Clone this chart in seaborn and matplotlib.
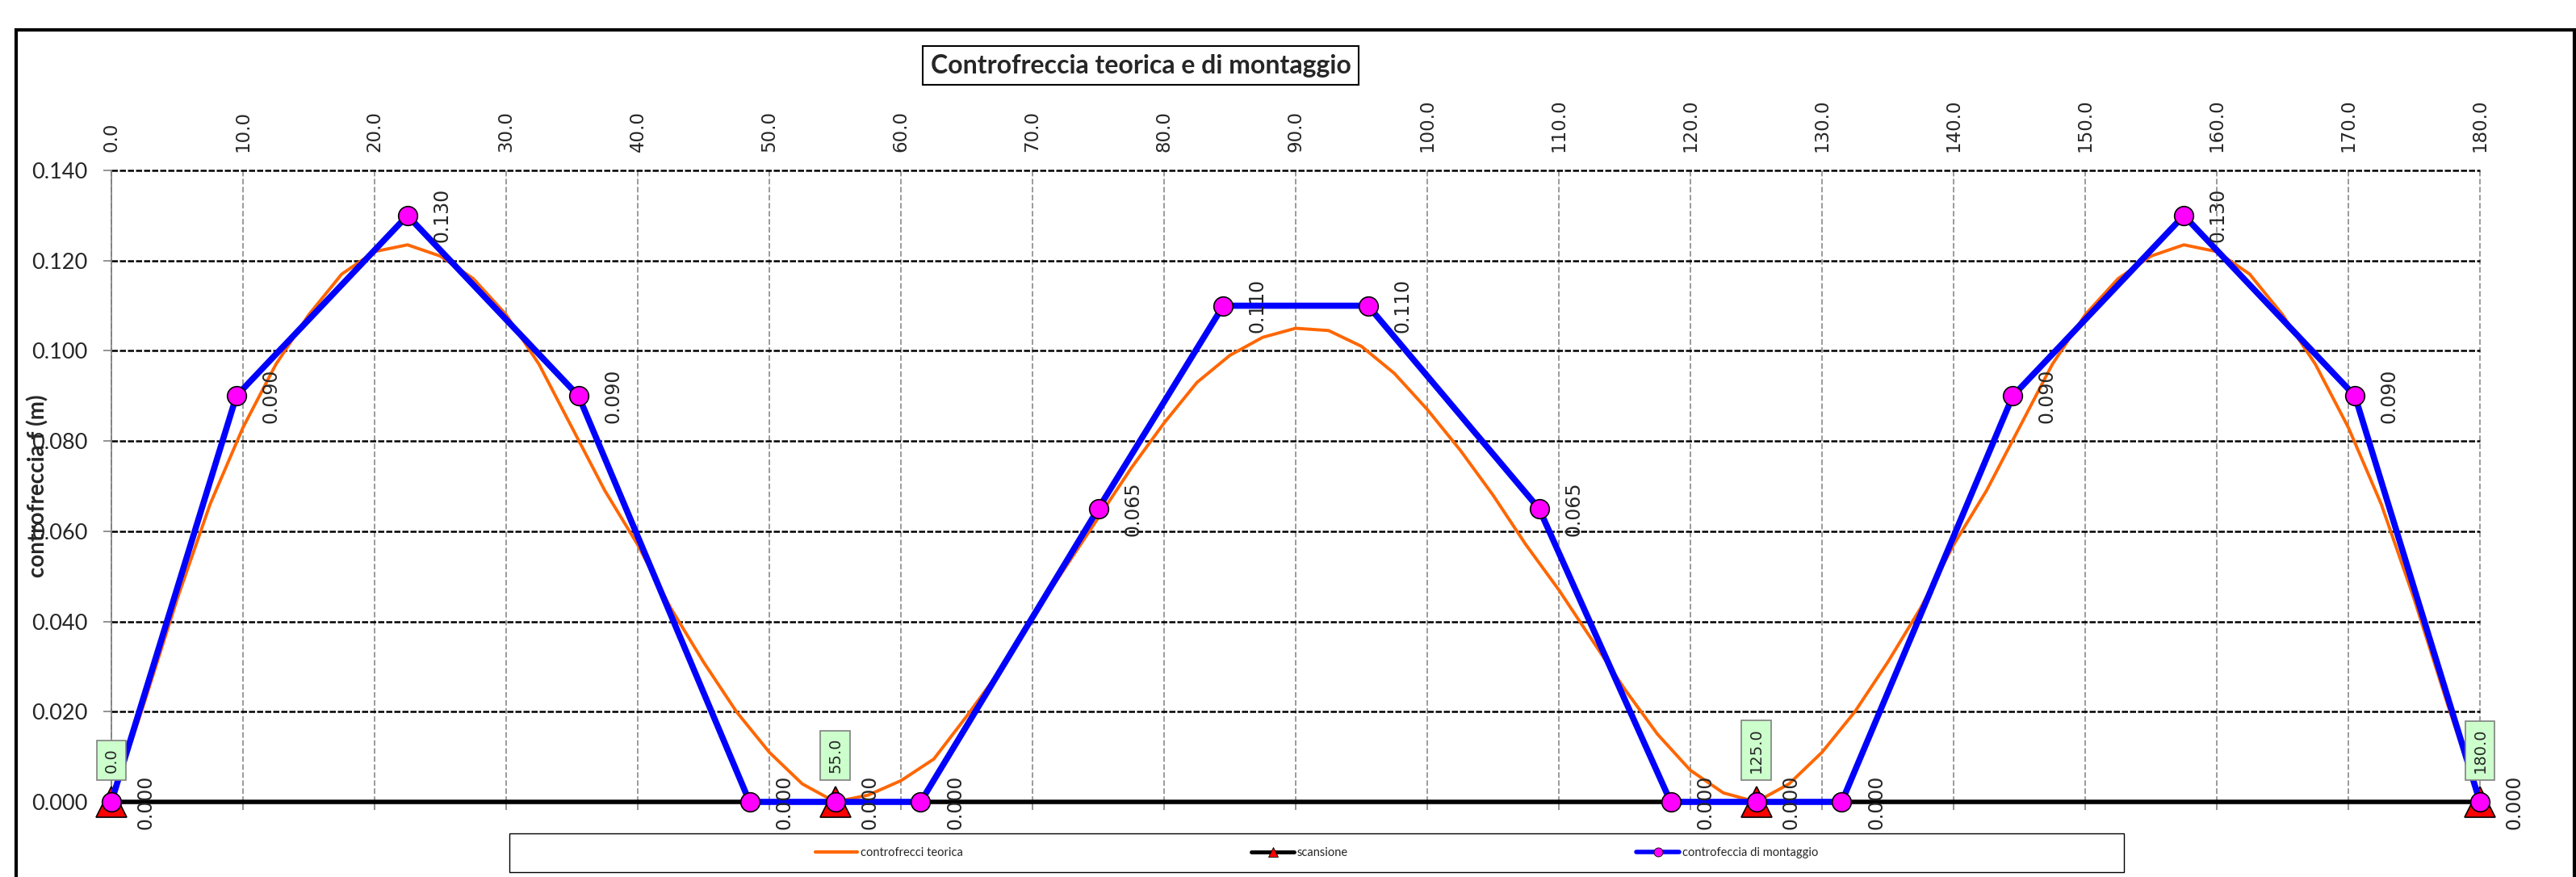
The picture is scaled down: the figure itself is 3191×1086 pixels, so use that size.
import matplotlib
matplotlib.use("Agg")
import matplotlib.pyplot as plt
import seaborn as sns
from matplotlib.lines import Line2D
from matplotlib.patches import Rectangle
from matplotlib.ticker import FixedLocator, FormatStrFormatter

# ---------------- data ----------------
theory_x = [0, 2.5, 5, 7.5, 10, 12.5, 15, 17.5, 20, 22.5, 25, 27.5, 30, 32.5, 35, 37.5,
            40, 42.5, 45, 47.5, 50, 52.5, 55, 57.5, 60, 62.5, 65, 67.5, 70, 72.5, 75,
            77.5, 80, 82.5, 85, 87.5, 90, 92.5, 95, 97.5, 100, 102.5, 105, 107.5, 110,
            112.5, 115, 117.5, 120, 122.5, 125, 127.5, 130, 132.5, 135, 137.5, 140,
            142.5, 145, 147.5, 150, 152.5, 155, 157.5, 160, 162.5, 165, 167.5, 170,
            172.5, 175, 177.5, 180]
theory_y = [0.000, 0.022, 0.045, 0.066, 0.083, 0.097, 0.108, 0.117, 0.122, 0.1235, 0.121,
            0.116, 0.108, 0.097, 0.083, 0.069, 0.057, 0.043, 0.031, 0.020, 0.011, 0.004,
            0.000, 0.0015, 0.0047, 0.0095, 0.019, 0.029, 0.041, 0.052, 0.063, 0.074,
            0.084, 0.093, 0.099, 0.103, 0.105, 0.1045, 0.101, 0.095, 0.087, 0.078, 0.068,
            0.057, 0.047, 0.036, 0.025, 0.015, 0.007, 0.002, 0.000, 0.004, 0.011, 0.020,
            0.031, 0.043, 0.057, 0.069, 0.083, 0.097, 0.108, 0.116, 0.121, 0.1235, 0.122,
            0.117, 0.108, 0.097, 0.083, 0.066, 0.045, 0.022, 0.000]

mont_x = [0, 9.5, 22.5, 35.5, 48.5, 55, 61.5, 75, 84.5, 95.5, 108.5, 118.5, 125, 131.5,
          144.5, 157.5, 170.5, 180]
mont_y = [0.000, 0.090, 0.130, 0.090, 0.000, 0.000, 0.000, 0.065, 0.110, 0.110, 0.065,
          0.000, 0.000, 0.000, 0.090, 0.130, 0.090, 0.000]

scan_x = [0, 55, 125, 180]
scan_y = [0, 0, 0, 0]

x_ticks = list(range(0, 181, 10))
y_ticks = [0.000, 0.020, 0.040, 0.060, 0.080, 0.100, 0.120, 0.140]

title = "Controfreccia teorica e di montaggio"
ylabel = "controfreccia f (m)"
legend_labels = ["controfrecci teorica", "scansione", "controfeccia di montaggio"]

# ---------------- style ----------------
sns.set_style("white")
plt.rcParams["font.family"] = ["DejaVu Sans"]

W, H = 3191, 1086
fig = plt.figure(figsize=(W / 100, H / 100), dpi=100)
ax = fig.add_axes([138 / W, 1 - 993 / H, (3072 - 138) / W, (993 - 211) / H])

ORANGE = "#FF6600"
BLUE = "#0000FF"
MAGENTA = "#FF00FF"

sns.lineplot(x=theory_x, y=theory_y, ax=ax, color=ORANGE, linewidth=2.8,
             estimator=None, sort=False, zorder=3, clip_on=False)
sns.lineplot(x=scan_x, y=scan_y, ax=ax, color="black", linewidth=4,
             marker="^", markersize=27, markerfacecolor="#FF0000",
             mec="black", mew=1.2, estimator=None, sort=False, zorder=4, clip_on=False)
sns.lineplot(x=mont_x, y=mont_y, ax=ax, color=BLUE, linewidth=5.5,
             marker="o", markersize=17, markerfacecolor=MAGENTA,
             mec="black", mew=1.2, estimator=None, sort=False, zorder=5, clip_on=False)

ax.set_xlim(0, 180)
ax.set_ylim(0, 0.14)
ax.set_xlabel("")

# data labels
for xv, yv in zip(mont_x, mont_y):
    ax.annotate(f"{yv:.3f}", (xv, yv), xytext=(22, 0), textcoords="offset points",
                rotation=90, ha="left", va="center", fontsize=17,
                family="DejaVu Sans", zorder=8, annotation_clip=False)

for xv, yv in zip(scan_x, scan_y):
    ax.annotate(f"{xv:.1f}", (xv, yv), xytext=(0, 26), textcoords="offset points",
                rotation=90, ha="center", va="bottom", fontsize=14,
                family="DejaVu Sans", zorder=9, annotation_clip=False,
                bbox=dict(boxstyle="square,pad=0.45", fc="#CCFFCC", ec="#808080", lw=1.2))

# ticks
ax.xaxis.set_major_locator(FixedLocator(x_ticks))
ax.xaxis.set_major_formatter(FormatStrFormatter("%.1f"))
ax.yaxis.set_major_locator(FixedLocator(y_ticks))
ax.yaxis.set_major_formatter(FormatStrFormatter("%.3f"))
ax.tick_params(axis="x", bottom=True, top=False, labelbottom=False, labeltop=True,
               labelrotation=90, direction="out", length=7, width=1.2,
               color="#808080", pad=9.5, labelsize=16.5)
ax.tick_params(axis="y", left=True, right=False, direction="out", length=7, width=1.2,
               color="#808080", pad=14.6, labelsize=19.5)
for t in ax.get_yticklabels():
    t.set_fontfamily("Lato")

ax.grid(axis="y", color="black", linestyle=(0, (3, 1)), linewidth=1.8)
ax.grid(axis="x", color="#808080", linestyle=(0, (4.5, 2)), linewidth=1.1)
ax.set_axisbelow(True)
for gl in ax.get_xgridlines() + ax.get_ygridlines():
    gl.set_clip_on(False)

for s in ["top", "right", "bottom"]:
    ax.spines[s].set_visible(False)
ax.spines["left"].set_color("#808080")
ax.spines["left"].set_linewidth(1.2)

ax.set_ylabel(ylabel, fontsize=20, fontweight="bold", family="Lato")
ax.yaxis.set_label_coords(-0.031, 0.5)
ax.yaxis.label.set_va("center")

# title
fig.text(1413 / W, 1 - 81 / H, title, ha="center", va="center", fontsize=23,
         fontweight="bold", family="Lato",
         bbox=dict(boxstyle="square,pad=0.3", fc="white", ec="black", lw=1.5))

# outer frame
fig.add_artist(Rectangle((20 / W, -0.05), (3189 - 20) / W, 1.05 - 37 / H,
                         transform=fig.transFigure, fill=False, ec="black", lw=3,
                         clip_on=False))

# legend
fig.add_artist(Rectangle((631 / W, 1 - 1080 / H), 2000 / W, 48 / H,
                         transform=fig.transFigure, fill=False, ec="black", lw=1))
handles = [
    Line2D([], [], color=ORANGE, lw=3),
    Line2D([], [], color="black", lw=3.5, marker="^", ms=8, mfc="#FF0000", mec="black", mew=0.6),
    Line2D([], [], color=BLUE, lw=4, marker="o", ms=8, mfc=MAGENTA, mec="black", mew=0.6),
]
fig.legend(handles, legend_labels, loc="center", bbox_to_anchor=(1631 / W, 1 - 1056 / H),
           ncol=3, frameon=False, prop={"family": "Lato", "size": 10.5},
           handlelength=3.6, handletextpad=0.27, columnspacing=24.5)

fig.savefig("out.png", dpi=100)
